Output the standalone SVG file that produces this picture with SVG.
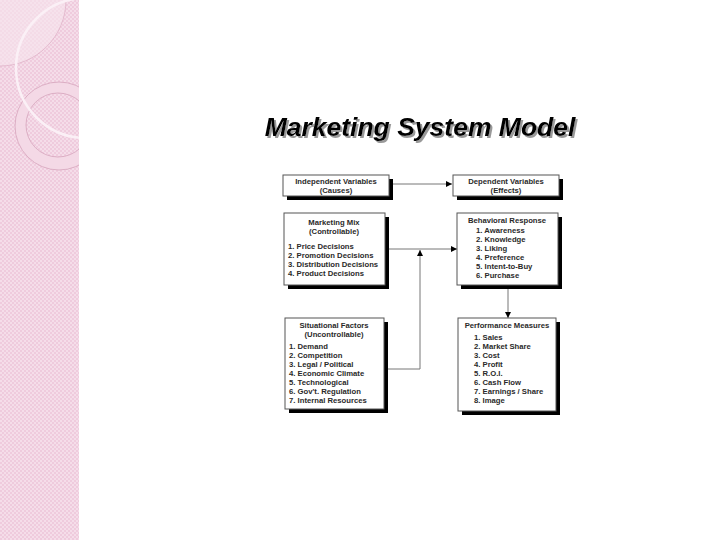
<svg xmlns="http://www.w3.org/2000/svg" width="720" height="540" viewBox="0 0 720 540">
<defs>
<style>
.box{fill:#fff;stroke:#555;stroke-width:1}
.shadow{fill:#000}
.t{font-family:"Liberation Sans",Arial,sans-serif;font-size:7.7px;font-weight:bold;fill:#2a2a2a}
.c{text-anchor:middle}
.conn{stroke:#777;stroke-width:1;fill:none}
</style>
<pattern id="chk" width="4" height="4" patternUnits="userSpaceOnUse">
<rect width="4" height="4" fill="#efcbdd"/>
<rect width="2" height="2" fill="#f5dde9"/>
<rect x="2" y="2" width="2" height="2" fill="#f5dde9"/>
</pattern>
<clipPath id="strip"><rect x="0" y="0" width="79" height="540"/></clipPath>
<filter id="tshadow" x="-5%" y="-20%" width="110%" height="150%">
<feOffset in="SourceAlpha" dx="2" dy="2" result="off"/>
<feFlood flood-color="#999"/>
<feComposite in2="off" operator="in" result="sh"/>
<feMerge><feMergeNode in="sh"/><feMergeNode in="SourceGraphic"/></feMerge>
</filter>
<marker id="ah" viewBox="0 0 8 8" refX="8" refY="4" markerWidth="6" markerHeight="6" orient="auto" markerUnits="userSpaceOnUse">
<path d="M0,0 L8,4 L0,8 Z" fill="#000"/>
</marker>
</defs>
<rect width="720" height="540" fill="#fff"/>
<g id="strip-bg" clip-path="url(#strip)">
<rect x="0" y="0" width="79" height="540" fill="url(#chk)"/>
<circle cx="0" cy="0" r="66" fill="#f7e6ef" fill-opacity="0.6" stroke="#dfb3c8" stroke-width="0.8"/>
<path d="M103,126 A44,44 0 1 1 15,126 A44,44 0 1 1 103,126 Z M90,125 A32,32 0 1 0 26,125 A32,32 0 1 0 90,125 Z" fill="#f4d9e6" fill-rule="evenodd" stroke="#d6a3bb" stroke-width="0.8"/>
<circle cx="86" cy="68" r="70" fill="none" stroke="#fbf0f6" stroke-width="2.5"/>
</g>
<g id="title">
<text x="420" y="136" text-anchor="middle" font-family="'Liberation Sans',Arial,sans-serif" font-size="26.5" font-weight="bold" font-style="italic" fill="#000" filter="url(#tshadow)">Marketing System Model</text>
</g>
<g id="connectors">
<line class="conn" x1="390" y1="184" x2="452" y2="184" marker-end="url(#ah)"/>
<line class="conn" x1="385" y1="249" x2="457" y2="249" marker-end="url(#ah)"/>
<polyline class="conn" points="384,369 420,369 420,250" marker-end="url(#ah)"/>
<line class="conn" x1="508" y1="288" x2="508" y2="318" marker-end="url(#ah)"/>
</g>
<g id="independent">
<rect class="shadow" x="287" y="179" width="106" height="21"/>
<rect class="box" x="283" y="175" width="106" height="21"/>
<text class="t c" x="336" y="184">Independent Variables</text>
<text class="t c" x="336" y="193">(Causes)</text>
</g>
<g id="dependent">
<rect class="shadow" x="457" y="179" width="106" height="21"/>
<rect class="box" x="453" y="175" width="106" height="21"/>
<text class="t c" x="506" y="184">Dependent Variables</text>
<text class="t c" x="506" y="193">(Effects)</text>
</g>
<g id="marketing-mix">
<rect class="shadow" x="288" y="217" width="101" height="72"/>
<rect class="box" x="284" y="213" width="101" height="72"/>
<text class="t c" x="334" y="225">Marketing Mix</text>
<text class="t c" x="334" y="234">(Controllable)</text>
<text class="t" x="288" y="249">1.  Price Decisions</text>
<text class="t" x="288" y="258">2.  Promotion Decisions</text>
<text class="t" x="288" y="267">3.  Distribution Decisions</text>
<text class="t" x="288" y="276">4.  Product Decisions</text>
</g>
<g id="behavioral">
<rect class="shadow" x="461" y="217" width="101" height="72"/>
<rect class="box" x="457" y="213" width="101" height="72"/>
<text class="t c" x="507" y="223">Behavioral Response</text>
<text class="t" x="476" y="233">1.  Awareness</text>
<text class="t" x="476" y="242">2.  Knowledge</text>
<text class="t" x="476" y="251">3.  Liking</text>
<text class="t" x="476" y="260">4.  Preference</text>
<text class="t" x="476" y="269">5.  Intent-to-Buy</text>
<text class="t" x="476" y="278">6.  Purchase</text>
</g>
<g id="situational">
<rect class="shadow" x="289" y="322" width="99" height="91"/>
<rect class="box" x="285" y="318" width="99" height="91"/>
<text class="t c" x="334" y="328">Situational Factors</text>
<text class="t c" x="334" y="337">(Uncontrollable)</text>
<text class="t" x="289" y="349">1.  Demand</text>
<text class="t" x="289" y="358">2.  Competition</text>
<text class="t" x="289" y="367">3.  Legal / Political</text>
<text class="t" x="289" y="376">4.  Economic Climate</text>
<text class="t" x="289" y="385">5.  Technological</text>
<text class="t" x="289" y="394">6.  Gov't. Regulation</text>
<text class="t" x="289" y="403">7.  Internal Resources</text>
</g>
<g id="performance">
<rect class="shadow" x="462" y="322" width="98" height="93"/>
<rect class="box" x="458" y="318" width="98" height="93"/>
<text class="t c" x="507" y="328">Performance Measures</text>
<text class="t" x="474" y="340">1.  Sales</text>
<text class="t" x="474" y="349">2.  Market Share</text>
<text class="t" x="474" y="358">3.  Cost</text>
<text class="t" x="474" y="367">4.  Profit</text>
<text class="t" x="474" y="376">5.  R.O.I.</text>
<text class="t" x="474" y="385">6.  Cash Flow</text>
<text class="t" x="474" y="394">7.  Earnings / Share</text>
<text class="t" x="474" y="403">8.  Image</text>
</g>
</svg>
